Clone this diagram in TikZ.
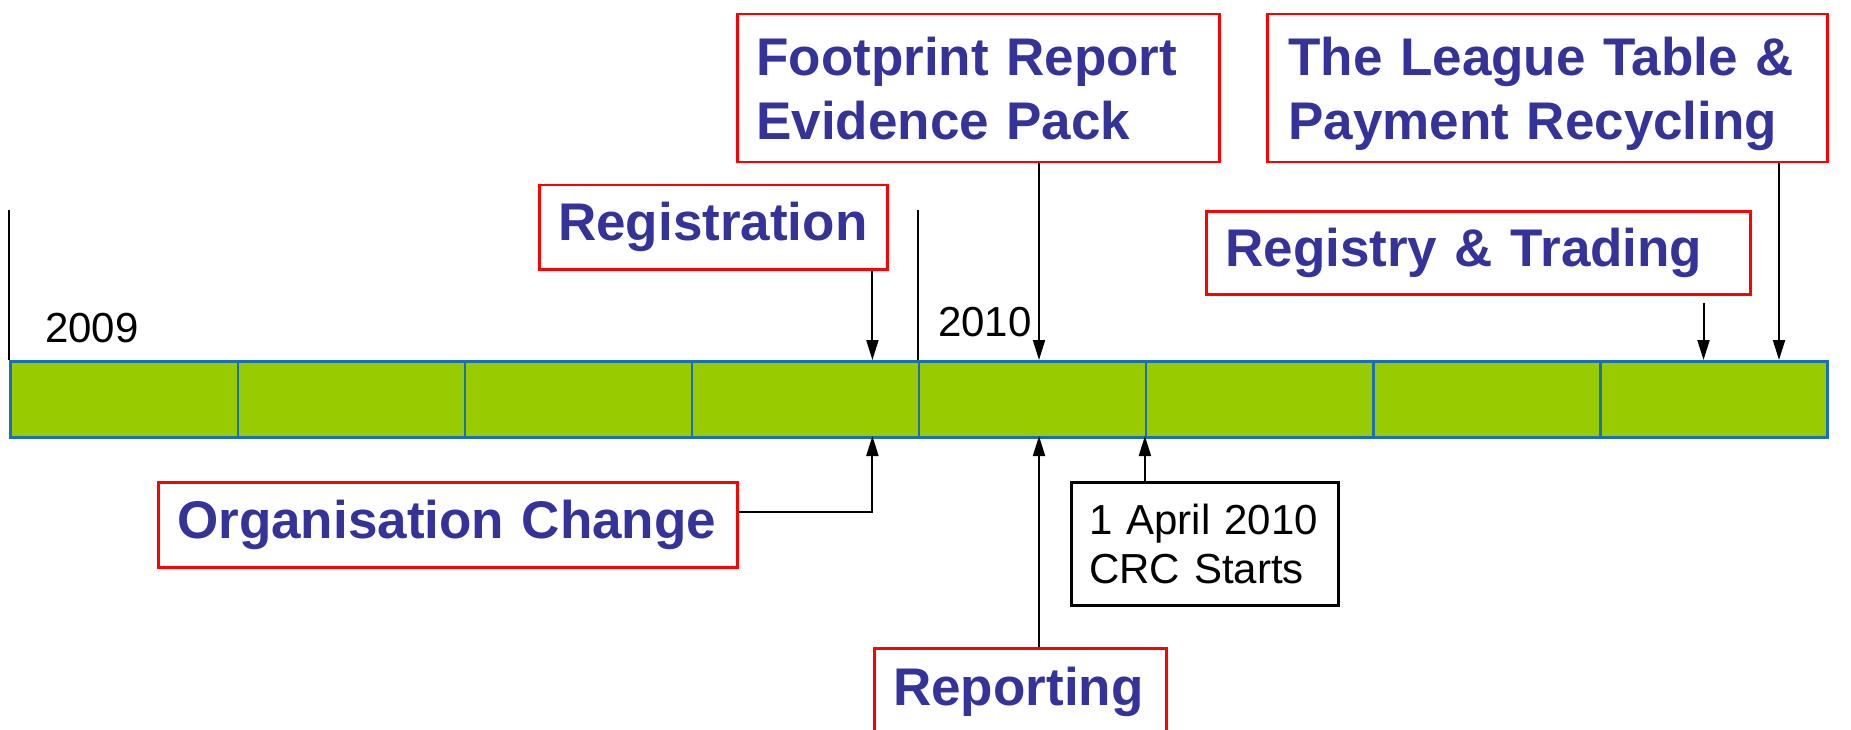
\documentclass[tikz,border=0pt]{standalone}
\usepackage{fontspec}
\setmainfont{Liberation Sans}
\usetikzlibrary{arrows.meta}
\definecolor{txtblue}{HTML}{333399}
\definecolor{bargreen}{HTML}{99CC00}
\definecolor{barblue}{HTML}{1A6FB5}
\begin{document}
\begin{tikzpicture}[x=1pt,y=-1pt,
  redbox/.style={draw=red, line width=2.5pt, fill=white, anchor=north west, inner xsep=19pt, inner ysep=0pt, align=left, text=txtblue, font=\fontsize{53}{64}\selectfont\bfseries},
  blackbox/.style={draw=black, line width=2.5pt, fill=white, anchor=north west, inner xsep=18pt, inner ysep=0pt, align=left, font=\fontsize{42}{49}\selectfont},
  cell/.style={draw=barblue, line width=2.5pt, fill=bargreen, anchor=north west, minimum width=227.1pt, minimum height=76pt, inner sep=0pt},
  arr/.style={line width=2pt, -{Triangle[length=20pt,width=12pt]}},
  tickline/.style={line width=2pt},
  year/.style={anchor=base west, font=\fontsize{42}{49}\selectfont, inner sep=0pt}]
\useasboundingbox (0,0) rectangle (1851,730);
\clip (0,0) rectangle (1851,730);
\fill[white] (0,0) rectangle (1851,730);

% timeline bar
\foreach \i in {0,...,7} {
  \node[cell] (c\i) at ({9.4+\i*227.1},360) {};
}

% year ticks
\coordinate (t9a) at (9.4,210);
\coordinate (t10a) at (917.8,210);
\draw[tickline] (t9a) -- (t9a |- c0.north);
\draw[tickline] (t10a) -- (t10a |- c4.north);
\node[year] (y2009) at (45,342) {2009};
\node[year] (y2010) at (938,336) {2010};

% boxes
\node[redbox, text width=310pt, minimum height=84pt] (reg) at (538,184) {Registration};
\node[redbox, text width=444pt, minimum height=148pt] (foot) at (736,13) {Footprint Report\\Evidence Pack};
\node[redbox, inner xsep=21pt, text width=518pt, minimum height=148pt] (league) at (1266,13) {The League Table \&\\\smash{Payment Recycling}};
\node[redbox, text width=506pt, minimum height=83pt] (rt) at (1205,210) {Registry \& Trading};
\node[redbox, text width=541pt, minimum height=85pt] (org) at (157,481) {Organisation Change};
\node[redbox, text width=254pt, minimum height=88pt] (rep) at (873,647) {Reporting};
\node[blackbox, text width=231pt, minimum height=123pt] (apr) at (1070,481) {1 April 2010\\CRC Starts};

% arrow targets on the bar
\coordinate (regT) at (872.4,360);
\coordinate (footT) at (1039,360);
\coordinate (leagueT) at (1779,360);
\coordinate (rtT) at (1703.5,360);
\coordinate (orgT) at (872.4,436);
\coordinate (repT) at (1039,436);
\coordinate (aprT) at (1144.9,436);

% connectors
\draw[arr] (reg.south -| regT) -- (regT);
\draw[arr] (foot.south -| footT) -- (footT);
\draw[arr] (league.south -| leagueT) -- (leagueT);
\draw[arr, shorten <=7pt] (rt.south -| rtT) -- (rtT);
\draw[arr] ([yshift=13pt]org.east) -| (orgT);
\draw[arr] (rep.north -| repT) -- (repT);
\draw[arr] (apr.north -| aprT) -- (aprT);
\end{tikzpicture}
\end{document}
